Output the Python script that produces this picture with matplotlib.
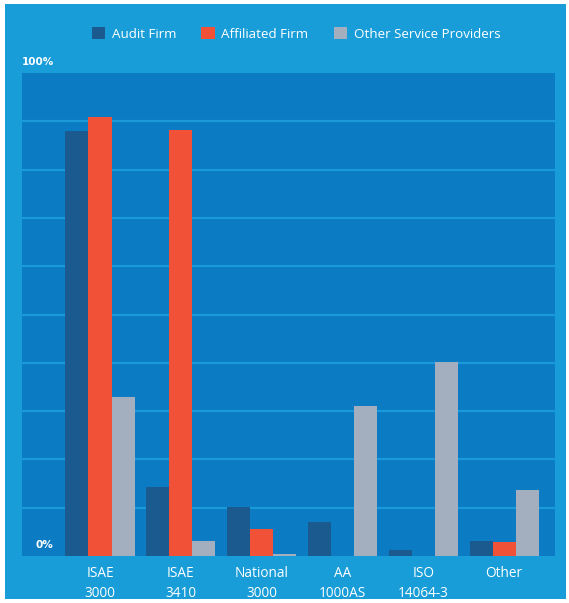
import matplotlib.pyplot as plt
import numpy as np
from matplotlib.patches import Rectangle, Patch

# Share of assurance engagements by standard and provider type (%)
categories = ["ISAE\n3000", "ISAE\n3410", "National\n3000", "AA\n1000AS", "ISO\n14064-3", "Other"]
audit_firm = [88.0, 14.3, 10.1, 7.0, 1.2, 3.1]
affiliated_firm = [90.9, 88.2, 5.6, 0.0, 0.0, 2.9]
other_providers = [32.9, 3.1, 0.4, 31.0, 40.2, 13.7]
series_names = ["Audit Firm", "Affiliated Firm", "Other Service Providers"]

OUTER_BG = "#189dd8"
PLOT_BG = "#0b7bc4"
GRID = "#1a9ad8"
COLORS = ["#1b5a8e", "#f15237", "#a3afbf"]
FONT = "Open Sans"

W, H = 569, 603
fig = plt.figure(figsize=(W / 100, H / 100), dpi=100, facecolor="white")

# light blue panel behind everything
fig.patches.append(Rectangle((5 / W, 4 / H), 561 / W, 595 / H,
                             transform=fig.transFigure, facecolor=OUTER_BG,
                             edgecolor="none", zorder=-10))

ax = fig.add_axes([22 / W, (H - 556) / H, (555 - 22) / W, (556 - 73) / H])
ax.set_zorder(1)
ax.set_facecolor(PLOT_BG)

x = np.arange(len(categories))
bw = 0.285
for i, (vals, col) in enumerate(zip([audit_firm, affiliated_firm, other_providers], COLORS)):
    ax.bar(x + (i - 1) * bw, vals, width=bw, color=col, zorder=3)

ax.set_xlim(-0.965, 5.63)
ax.set_ylim(0, 100)
ax.set_yticks(np.arange(10, 100, 10))
ax.yaxis.grid(True, color=GRID, linewidth=1.6)
ax.set_axisbelow(True)
ax.tick_params(axis="y", left=False, labelleft=False)
ax.tick_params(axis="x", bottom=False, pad=4)
ax.set_xticks(x)
ax.set_xticklabels(categories, color="white", fontsize=9.8, family=FONT,
                   linespacing=1.45)
for s in ax.spines.values():
    s.set_visible(False)

fig.text(22 / W, 1 - 62 / H, "100%", color="white", fontsize=7.5,
         fontweight="bold", va="center", ha="left", family="DejaVu Sans")
ax.text((36 - 22) / (555 - 22), 11 / (556 - 73), "0%", color="white",
        fontsize=7.5, fontweight="bold", va="center", ha="left",
        transform=ax.transAxes, family="DejaVu Sans")

handles = [Patch(facecolor=c, edgecolor="none") for c in COLORS]
fig.legend(handles, series_names, loc="center", bbox_to_anchor=(296 / W, 1 - 34 / H),
           ncol=3, frameon=False, handlelength=1.0, handleheight=1.0,
           handletextpad=0.5, columnspacing=1.9,
           prop={"family": FONT, "size": 9.6}, labelcolor="white")

fig.savefig("out.png", dpi=100, facecolor="white")
